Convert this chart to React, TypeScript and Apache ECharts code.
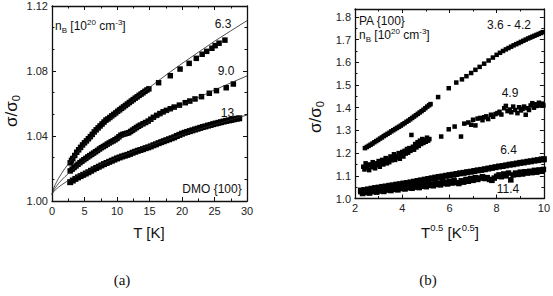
import React, { useEffect, useRef } from "react";
import * as echarts from "echarts";

// ---------- Panel (a): DMO {100}, sigma/sigma0 versus T [K] ----------
const a63: number[][] = [
  [2.8, 1.0235], [3.0, 1.025], [3.2, 1.0262], [3.5, 1.028], [3.8, 1.03], [4.1, 1.0315], [4.4, 1.033],
  [4.7, 1.0345], [5.0, 1.0358], [5.3, 1.037], [5.6, 1.0383], [5.9, 1.0396], [6.2, 1.041], [6.5, 1.0425],
  [6.8, 1.0438], [7.1, 1.045], [7.4, 1.0462], [7.7, 1.0474], [8.0, 1.0486], [8.3, 1.0498], [8.6, 1.0505],
  [8.9, 1.0514], [9.2, 1.0524], [9.5, 1.0533], [9.8, 1.0542], [10.1, 1.0552], [10.4, 1.0561], [10.7, 1.057],
  [11.0, 1.0579], [11.3, 1.0588], [11.6, 1.0597], [11.9, 1.0606], [12.2, 1.0615], [12.5, 1.0624],
  [12.8, 1.0633], [13.1, 1.0641], [13.4, 1.065], [13.7, 1.0658], [14.0, 1.0666], [14.3, 1.0675],
  [14.6, 1.0683], [14.9, 1.069],
  [16.4, 1.0728], [18.2, 1.0771], [19.7, 1.0812], [21.1, 1.0847], [22.2, 1.0878], [23.1, 1.0903],
  [23.8, 1.0921], [24.6, 1.094], [25.1, 1.0956], [25.7, 1.0971], [26.6, 1.099],
];

const a90: number[][] = [
  [2.8, 1.0185], [3.1, 1.0196], [3.4, 1.0206], [3.7, 1.0216], [4.0, 1.0226], [4.3, 1.0236], [4.6, 1.0245],
  [4.9, 1.0254], [5.2, 1.0262], [5.5, 1.0271], [5.8, 1.0279], [6.1, 1.0287], [6.4, 1.0295], [6.7, 1.0303],
  [7.0, 1.0311], [7.3, 1.032], [7.6, 1.0328], [7.9, 1.0335], [8.2, 1.0342], [8.5, 1.035], [8.8, 1.0357],
  [9.1, 1.0364], [9.4, 1.037], [9.7, 1.0377], [10.0, 1.0385], [10.3, 1.0395], [10.6, 1.0405], [10.9, 1.041],
  [11.2, 1.0413], [11.5, 1.0417], [11.8, 1.042], [12.1, 1.0428], [12.4, 1.0436], [12.7, 1.0444],
  [13.0, 1.0452], [13.3, 1.046], [13.6, 1.0467], [14.0, 1.0475], [14.4, 1.0483], [14.8, 1.0492],
  [15.2, 1.0503], [15.6, 1.0515], [16.1, 1.0527], [16.6, 1.0538], [17.1, 1.0549], [17.6, 1.0558],
  [18.2, 1.0568], [18.8, 1.0578], [19.6, 1.059], [20.5, 1.0605], [21.2, 1.0615], [22.0, 1.0628],
  [23.0, 1.0642], [24.2, 1.0663], [25.3, 1.0679], [26.8, 1.0697], [27.9, 1.072],
];

const a13: number[][] = [
  [2.8, 1.0116], [3.2, 1.0126], [3.6, 1.0136], [4.0, 1.0145], [4.4, 1.0153], [4.8, 1.0161], [5.2, 1.0169],
  [5.6, 1.0177], [6.0, 1.0186], [6.4, 1.0195], [6.8, 1.0203], [7.2, 1.0211], [7.6, 1.0219], [8.0, 1.0227],
  [8.4, 1.0234], [8.8, 1.0241], [9.2, 1.0248], [9.6, 1.0255], [10.0, 1.0262], [10.4, 1.0268],
  [10.8, 1.0274], [11.2, 1.0279], [11.6, 1.0284], [12.0, 1.029], [12.4, 1.0297], [12.8, 1.0303],
  [13.2, 1.0309], [13.6, 1.0314], [14.0, 1.0319], [14.4, 1.0325], [14.8, 1.033], [15.2, 1.0336],
  [15.6, 1.0343], [16.0, 1.0349], [16.4, 1.0356], [16.8, 1.0362], [17.2, 1.0368], [17.6, 1.0374],
  [18.0, 1.038], [18.4, 1.0386], [18.8, 1.0392], [19.2, 1.04], [19.6, 1.0407], [20.0, 1.0414],
  [20.4, 1.042], [20.8, 1.0425], [21.2, 1.043], [21.6, 1.0435], [22.0, 1.044], [22.4, 1.0445],
  [22.8, 1.045], [23.2, 1.0455], [23.6, 1.0459], [24.0, 1.0464], [24.4, 1.0468], [24.8, 1.0473],
  [25.2, 1.0477], [25.6, 1.0481], [26.0, 1.0485], [26.4, 1.0489], [26.8, 1.0493], [27.2, 1.0496],
  [27.6, 1.0499], [28.0, 1.0503], [28.4, 1.0506], [28.8, 1.0509],
];

// fitted curves drawn through the three data sets
const fit63: number[][] = [
  [0, 1.004], [0.1, 1.006], [0.25, 1.0078], [0.5, 1.0101], [0.75, 1.0121], [1, 1.0139], [1.5, 1.0171],
  [2, 1.0201], [2.5, 1.0228], [3, 1.0254], [4, 1.0301], [5, 1.0345], [6, 1.0387], [7, 1.0427],
  [8, 1.0464], [10, 1.0536], [12, 1.0603], [14, 1.0668], [16, 1.0729], [18, 1.0789], [20, 1.0846],
  [22.5, 1.0915], [25, 1.0983], [27.5, 1.1047], [30, 1.111],
];
const fit90: number[][] = [
  [0, 1.004], [0.1, 1.0053], [0.25, 1.0066], [0.5, 1.0082], [0.75, 1.0095], [1, 1.0108], [1.5, 1.013],
  [2, 1.015], [2.5, 1.0168], [3, 1.0186], [4, 1.0218], [5, 1.0248], [6, 1.0277], [7, 1.0304],
  [8, 1.0329], [10, 1.0378], [12, 1.0424], [14, 1.0468], [16, 1.051], [18, 1.0551], [20, 1.0589],
  [22.5, 1.0637], [25, 1.0683], [27.5, 1.0727], [30, 1.077],
];
const fit13: number[][] = [
  [0, 1.004], [0.1, 1.0049], [0.25, 1.0057], [0.5, 1.0068], [0.75, 1.0077], [1, 1.0085], [1.5, 1.01],
  [2, 1.0113], [2.5, 1.0126], [3, 1.0138], [4, 1.0159], [5, 1.0179], [6, 1.0198], [7, 1.0217],
  [8, 1.0234], [10, 1.0267], [12, 1.0297], [14, 1.0327], [16, 1.0355], [18, 1.0382], [20, 1.0408],
  [22.5, 1.044], [25, 1.047], [27.5, 1.05], [30, 1.0529],
];

// ---------- Panel (b): PA {100}, sigma/sigma0 versus T^0.5 ----------
const b36: number[][] = [
  [2.42, 1.222], [2.5, 1.227], [2.58, 1.232], [2.66, 1.237], [2.74, 1.242], [2.82, 1.248], [2.9, 1.253],
  [2.98, 1.258], [3.06, 1.264], [3.14, 1.269], [3.22, 1.275], [3.3, 1.28], [3.38, 1.285], [3.46, 1.29],
  [3.54, 1.296], [3.62, 1.301], [3.7, 1.306], [3.78, 1.311], [3.86, 1.316], [3.94, 1.321], [4.02, 1.327],
  [4.1, 1.332], [4.18, 1.338], [4.26, 1.343], [4.34, 1.349], [4.42, 1.355], [4.5, 1.361], [4.58, 1.367],
  [4.66, 1.373], [4.74, 1.379], [4.82, 1.385], [4.9, 1.391], [4.98, 1.398], [5.06, 1.405], [5.14, 1.411],
  [5.2, 1.416],
  [5.52, 1.447], [5.97, 1.486], [6.29, 1.511], [6.53, 1.525], [6.72, 1.539], [6.92, 1.553], [7.1, 1.567],
  [7.28, 1.58], [7.47, 1.594], [7.66, 1.608], [7.84, 1.621], [8.0, 1.633], [8.14, 1.642], [8.27, 1.65],
  [8.39, 1.657], [8.5, 1.663], [8.61, 1.669], [8.72, 1.675], [8.83, 1.68], [8.93, 1.685], [9.03, 1.69],
  [9.13, 1.695], [9.23, 1.7], [9.33, 1.705], [9.42, 1.709], [9.51, 1.713], [9.6, 1.717], [9.69, 1.721],
  [9.78, 1.725], [9.87, 1.729], [9.95, 1.733],
];

const b49: number[][] = [
  [2.35, 1.14], [2.4, 1.128], [2.45, 1.155], [2.5, 1.135], [2.55, 1.147], [2.6, 1.125], [2.65, 1.15],
  [2.7, 1.138], [2.75, 1.16], [2.8, 1.142], [2.85, 1.133], [2.9, 1.155], [2.95, 1.147], [3.0, 1.165],
  [3.05, 1.14], [3.1, 1.158], [3.15, 1.17], [3.2, 1.15], [3.25, 1.163], [3.3, 1.178], [3.35, 1.155],
  [3.4, 1.172], [3.45, 1.16], [3.5, 1.185], [3.55, 1.168], [3.6, 1.178], [3.65, 1.195], [3.7, 1.17],
  [3.75, 1.187], [3.8, 1.18], [3.85, 1.2], [3.9, 1.175], [3.95, 1.192], [4.0, 1.205], [4.05, 1.185],
  [4.1, 1.21], [4.15, 1.198], [4.2, 1.218], [4.25, 1.202], [4.3, 1.222], [4.35, 1.21], [4.39, 1.28],
  [4.45, 1.228], [4.5, 1.215], [4.55, 1.24], [4.6, 1.225], [4.65, 1.248], [4.7, 1.232], [4.75, 1.255],
  [4.8, 1.24], [4.85, 1.262], [4.9, 1.245], [4.95, 1.258], [5.0, 1.25], [5.05, 1.268], [5.1, 1.255],
  [5.15, 1.262],
  [5.65, 1.273], [5.97, 1.305], [6.22, 1.317], [6.49, 1.273], [6.63, 1.33], [6.8, 1.335], [6.92, 1.325],
  [7.0, 1.347], [7.1, 1.322], [7.19, 1.352], [7.3, 1.355], [7.4, 1.345], [7.47, 1.358], [7.56, 1.362],
  [7.64, 1.35], [7.76, 1.369], [7.85, 1.36], [7.95, 1.372], [8.03, 1.376], [8.12, 1.382], [8.2, 1.37],
  [8.32, 1.398], [8.39, 1.408], [8.46, 1.385], [8.55, 1.392], [8.62, 1.38], [8.7, 1.405], [8.78, 1.39],
  [8.88, 1.376], [8.95, 1.402], [9.03, 1.388], [9.1, 1.395], [9.16, 1.405], [9.23, 1.369], [9.3, 1.398],
  [9.37, 1.39], [9.44, 1.41], [9.51, 1.42], [9.58, 1.4], [9.65, 1.415], [9.72, 1.408], [9.79, 1.422],
  [9.86, 1.412], [9.93, 1.418], [9.98, 1.41],
];

const b64: number[][] = [
  [2.25, 1.035], [2.4, 1.037], [2.55, 1.04], [2.7, 1.043], [2.85, 1.046], [3.0, 1.048], [3.15, 1.051],
  [3.3, 1.053], [3.45, 1.056], [3.6, 1.058], [3.75, 1.061], [3.9, 1.063], [4.05, 1.066], [4.2, 1.068],
  [4.35, 1.071], [4.5, 1.074], [4.65, 1.077], [4.8, 1.08], [4.95, 1.083], [5.1, 1.086], [5.25, 1.089],
  [5.4, 1.092], [5.55, 1.095], [5.7, 1.097], [5.85, 1.1], [6.0, 1.103], [6.15, 1.105], [6.3, 1.108],
  [6.45, 1.111], [6.6, 1.113], [6.75, 1.116], [6.9, 1.118], [7.05, 1.121], [7.2, 1.124], [7.35, 1.126],
  [7.5, 1.129], [7.65, 1.132], [7.8, 1.135], [7.95, 1.138], [8.1, 1.141], [8.25, 1.143], [8.4, 1.146],
  [8.55, 1.149], [8.7, 1.151], [8.85, 1.154], [9.0, 1.157], [9.15, 1.159], [9.3, 1.162], [9.45, 1.164],
  [9.6, 1.167], [9.75, 1.169], [9.9, 1.172], [10.0, 1.173],
];

const b114: number[][] = [
  [2.25, 1.03], [2.32, 1.022], [2.4, 1.035], [2.48, 1.026], [2.55, 1.032], [2.62, 1.024], [2.7, 1.038],
  [2.78, 1.03], [2.85, 1.036], [2.92, 1.028], [3.0, 1.042], [3.08, 1.033], [3.15, 1.04], [3.22, 1.031],
  [3.3, 1.045], [3.38, 1.037], [3.45, 1.043], [3.52, 1.035], [3.6, 1.048], [3.68, 1.04], [3.75, 1.046],
  [3.82, 1.038], [3.9, 1.052], [3.98, 1.044], [4.05, 1.05], [4.12, 1.042], [4.2, 1.055], [4.28, 1.047],
  [4.35, 1.053], [4.42, 1.045], [4.5, 1.058], [4.58, 1.05], [4.65, 1.056], [4.72, 1.048], [4.8, 1.062],
  [4.88, 1.054], [4.95, 1.06], [5.02, 1.052], [5.1, 1.066], [5.18, 1.058], [5.25, 1.064], [5.32, 1.056],
  [5.4, 1.07], [5.48, 1.062], [5.55, 1.068], [5.62, 1.06], [5.7, 1.074], [5.78, 1.066], [5.85, 1.072],
  [5.92, 1.064], [6.0, 1.076], [6.1, 1.068], [6.2, 1.08], [6.3, 1.07], [6.4, 1.066], [6.5, 1.078],
  [6.6, 1.072], [6.7, 1.084], [6.8, 1.076], [6.9, 1.088], [7.0, 1.08], [7.1, 1.092], [7.2, 1.084],
  [7.3, 1.09], [7.4, 1.096], [7.5, 1.088], [7.6, 1.092], [7.7, 1.084], [7.8, 1.08], [7.9, 1.09],
  [8.0, 1.098], [8.1, 1.104], [8.2, 1.096], [8.3, 1.108], [8.4, 1.1], [8.5, 1.112], [8.6, 1.082],
  [8.7, 1.104], [8.8, 1.112], [8.9, 1.106], [9.0, 1.116], [9.1, 1.108], [9.2, 1.118], [9.3, 1.112],
  [9.4, 1.12], [9.5, 1.114], [9.6, 1.124], [9.7, 1.116], [9.8, 1.126], [9.9, 1.12], [9.98, 1.128],
];

const SANS = "'Liberation Sans', Arial, sans-serif";
const SERIF = "'Liberation Serif', 'DejaVu Serif', serif";
const INK = "#000";

const txt = (fontSize: number, extra: object = {}) => ({
  fontSize,
  fontFamily: SANS,
  fill: "#111",
  ...extra,
});

const richBase = {
  n: txt(12, { lineHeight: 16, verticalAlign: "middle" }),
  sup: txt(8, { verticalAlign: "top" }),
  sub: txt(8, { verticalAlign: "bottom" }),
};

function axisDef(
  kind: "x" | "y",
  gridIndex: number,
  position: string,
  min: number,
  max: number,
  interval: number,
  minorSplit: number,
  labels: boolean,
  fmt: (v: number) => string,
  showMaxLabel = true
) {
  return {
    type: "value",
    gridIndex,
    position,
    min,
    max,
    interval,
    axisLine: { show: true, onZero: false, lineStyle: { color: "#111", width: 1.3 } },
    axisTick: { show: true, inside: true, length: 4, lineStyle: { color: "#111", width: 1 } },
    minorTick: { show: true, splitNumber: minorSplit, length: 2.5, lineStyle: { color: "#111", width: 1 } },
    axisLabel: {
      show: labels,
      margin: kind === "x" ? 4 : 4,
      color: "#222",
      fontSize: 11,
      fontFamily: SANS,
      formatter: fmt,
      showMaxLabel,
    },
    splitLine: { show: false },
    minorSplitLine: { show: false },
  };
}

const scatter = (data: number[][], axis: number, size: number) => ({
  type: "scatter",
  xAxisIndex: axis,
  yAxisIndex: axis,
  data,
  symbol: "rect",
  symbolSize: size,
  itemStyle: { color: INK, opacity: 1 },
  silent: true,
});

const fitLine = (data: number[][]) => ({
  type: "line",
  xAxisIndex: 0,
  yAxisIndex: 0,
  data,
  smooth: false,
  showSymbol: false,
  symbol: "none",
  lineStyle: { color: "#222", width: 0.8 },
  silent: true,
  z: 3,
});

const label = (x: number, y: number, text: string, size = 12, align = "center") => ({
  type: "text",
  x,
  y,
  silent: true,
  style: { text, fontSize: size, fontFamily: SANS, fill: "#111", align, verticalAlign: "middle" },
});

const sigmaLabel = (x: number, y: number) => ({
  type: "text",
  x,
  y,
  rotation: Math.PI / 2,
  silent: true,
  style: {
    text: "{s|σ/σ}{b|0}",
    rich: {
      s: txt(17, { lineHeight: 20, verticalAlign: "middle" }),
      b: txt(11, { verticalAlign: "bottom" }),
    },
    align: "center",
    verticalAlign: "middle",
  },
});

const densityLabel = (x: number, y: number) => ({
  type: "text",
  x,
  y,
  silent: true,
  style: {
    text: "{n|n}{sub|B}{n| [10}{sup|20}{n| cm}{sup|-3}{n|]}",
    rich: richBase,
    verticalAlign: "middle",
  },
});

const caption = (x: number, text: string) => ({
  type: "text",
  x,
  y: 280,
  silent: true,
  style: { text, fontSize: 15, fontFamily: SERIF, fill: "#111", align: "center", verticalAlign: "middle" },
});

export default function App() {
  const ref = useRef<HTMLDivElement>(null);

  useEffect(() => {
    if (!ref.current) return;
    const chart = echarts.init(ref.current, undefined, { renderer: "svg" });
    const f2 = (v: number) => v.toFixed(2);
    const f1 = (v: number) => v.toFixed(1);
    const f0 = (v: number) => String(Math.round(v));

    chart.setOption({
      animation: false,
      backgroundColor: "#fff",
      grid: [
        { left: 52, top: 6, width: 195, height: 195 },
        { left: 355, top: 9, width: 190, height: 189.5 },
      ],
      xAxis: [
        axisDef("x", 0, "bottom", 0, 30, 5, 2, true, f0),
        axisDef("x", 0, "top", 0, 30, 5, 2, false, f0),
        axisDef("x", 1, "bottom", 2, 10, 2, 2, true, f0),
        axisDef("x", 1, "top", 2, 10, 2, 2, false, f0),
      ],
      yAxis: [
        axisDef("y", 0, "left", 1.0, 1.12, 0.04, 3, true, f2),
        axisDef("y", 0, "right", 1.0, 1.12, 0.04, 3, false, f2),
        axisDef("y", 1, "left", 1.0, 1.835, 0.1, 2, true, f1, false),
        axisDef("y", 1, "right", 1.0, 1.835, 0.1, 2, false, f1, false),
      ],
      series: [
        scatter(a63, 0, 5.5),
        scatter(a90, 0, 5.5),
        scatter(a13, 0, 6),
        fitLine(fit63),
        fitLine(fit90),
        fitLine(fit13),
        scatter(b36, 2, 4.5),
        scatter(b49, 2, 4.5),
        scatter(b64, 2, 6),
        scatter(b114, 2, 5.5),
      ],
      graphic: [
        // panel (a) annotations
        densityLabel(55, 26),
        label(223, 24, "6.3"),
        label(226, 71, "9.0"),
        label(227.5, 112.5, "13"),
        label(212, 189, "DMO {100}"),
        sigmaLabel(11, 111),
        label(149, 232, "T [K]", 15),
        caption(122, "(a)"),
        // panel (b) annotations
        label(359, 21, "PA {100}", 12, "left"),
        densityLabel(359, 35),
        label(509, 25, "3.6 - 4.2"),
        label(510, 92.5, "4.9"),
        label(508.5, 150, "6.4"),
        label(508, 189, "11.4"),
        sigmaLabel(315, 117),
        {
          type: "text",
          x: 450,
          y: 232,
          silent: true,
          style: {
            text: "{t|T}{p|0.5}{t| [K}{p|0.5}{t|]}",
            rich: {
              t: txt(15, { lineHeight: 20, verticalAlign: "middle" }),
              p: txt(9.5, { verticalAlign: "top" }),
            },
            align: "center",
            verticalAlign: "middle",
          },
        },
        caption(428, "(b)"),
      ],
    });

    return () => chart.dispose();
  }, []);

  return (
    <div
      ref={ref}
      style={{ position: "fixed", left: 0, top: 0, width: 553, height: 296, background: "#fff" }}
    />
  );
}
